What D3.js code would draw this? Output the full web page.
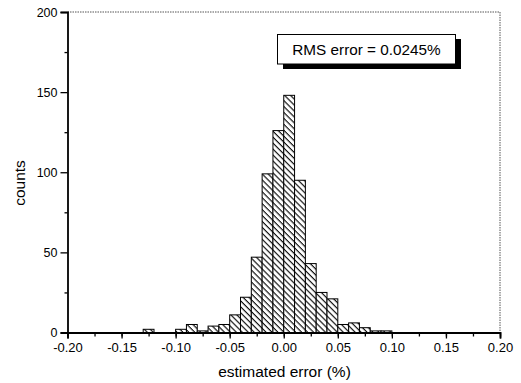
<!DOCTYPE html>
<html>
<head>
<meta charset="utf-8">
<script src="https://cdn.jsdelivr.net/npm/d3@7/dist/d3.min.js"></script>
<style>
  html, body { margin: 0; padding: 0; background: #fff; }
  svg { display: block; font-family: "Liberation Sans", Arial, sans-serif; }
</style>
</head>
<body>
<svg id="chart" width="521" height="383"></svg>
<script>
// ---- data ----
const binStarts = d3.range(-20, 20).map(i => i / 100); // bin lower edges, width 0.01
const counts = [
  0, 0, 0, 0, 0, 0, 0, 2, 0, 0,     // -0.20 .. -0.11
  2, 5, 1, 4, 5, 11, 22, 47, 99, 126, // -0.10 .. -0.01
  148, 95, 43, 25, 21, 5, 6, 3, 1, 1, // 0.00 .. 0.09
  0, 0, 0, 0, 0, 0, 0, 0, 0, 0        // 0.10 .. 0.19
];
const binWidth = 0.01;
const xTicks = [-0.20, -0.15, -0.10, -0.05, 0.00, 0.05, 0.10, 0.15, 0.20];
const xMinorTicks = d3.range(-8, 9).map(i => i * 0.025);
const yTicks = [0, 50, 100, 150, 200];
const yMinorTicks = [25, 75, 125, 175];
const legendText = "RMS error = 0.0245%";
const xTitle = "estimated error (%)";
const yTitle = "counts";

// ---- layout ----
const svg = d3.select("#chart");
const mLeft = 67.5, mRight = 500, mTop = 12, mBottom = 332.5;
const x = d3.scaleLinear().domain([-0.2, 0.2]).range([mLeft, mRight]);
const y = d3.scaleLinear().domain([0, 200]).range([mBottom, mTop]);

// hatch pattern
const defs = svg.append("defs");
const pat = defs.append("pattern")
  .attr("id", "hatch").attr("patternUnits", "userSpaceOnUse")
  .attr("width", 4.2).attr("height", 4.2)
  .attr("patternTransform", "rotate(45)");
pat.append("rect").attr("width", 4.2).attr("height", 4.2).attr("fill", "#fff");
pat.append("line").attr("x1", 0).attr("y1", 0.6).attr("x2", 4.2).attr("y2", 0.6)
  .attr("stroke", "#000").attr("stroke-width", 1.1);

// frame top/right (dotted, light)
svg.append("line").attr("x1", mLeft).attr("x2", mRight).attr("y1", mTop).attr("y2", mTop)
  .attr("stroke", "#555").attr("stroke-width", 1).attr("stroke-dasharray", "1.5,1");
svg.append("line").attr("x1", mRight).attr("x2", mRight).attr("y1", mTop).attr("y2", mBottom)
  .attr("stroke", "#555").attr("stroke-width", 1).attr("stroke-dasharray", "1.5,1");

// bars
const data = binStarts.map((b, i) => ({ x0: b, x1: b + binWidth, c: counts[i] }));
svg.append("g").selectAll("rect").data(data.filter(d => d.c > 0)).join("rect")
  .attr("x", d => x(d.x0))
  .attr("width", d => x(d.x1) - x(d.x0))
  .attr("y", d => y(d.c))
  .attr("height", d => y(0) - y(d.c))
  .attr("fill", "url(#hatch)")
  .attr("stroke", "#000").attr("stroke-width", 1);

const fmtX = d => d3.format(".2f")(d).replace("\u2212", "-");

// x axis
const xAxis = svg.append("g").attr("transform", `translate(0,${mBottom})`);
xAxis.call(d3.axisBottom(x).tickValues(xMinorTicks).tickSize(4).tickFormat(""))
  .call(g => g.select(".domain").remove());
xAxis.append("g").call(d3.axisBottom(x).tickValues(xTicks).tickSize(6).tickPadding(4)
    .tickFormat(fmtX))
  .call(g => g.select(".domain").attr("stroke-width", 1.8))
  .call(g => g.selectAll("text").attr("font-size", 13).attr("fill", "#000")
     .attr("font-family", "'Liberation Sans', Arial, sans-serif"));
xAxis.selectAll("line").attr("stroke-width", 1.3);

// y axis
const yAxis = svg.append("g").attr("transform", `translate(${mLeft},0)`);
yAxis.call(d3.axisLeft(y).tickValues(yMinorTicks).tickSize(3).tickFormat(""))
  .call(g => g.select(".domain").remove());
yAxis.append("g").call(d3.axisLeft(y).tickValues(yTicks).tickSize(7).tickPadding(3)
    .tickFormat(d3.format("d")))
  .call(g => g.select(".domain").attr("stroke-width", 1.8))
  .call(g => g.selectAll("text").attr("font-size", 12.5).attr("fill", "#000")
     .attr("font-family", "'Liberation Sans', Arial, sans-serif"));
yAxis.selectAll("line").attr("stroke-width", 1.3);

// axis titles
svg.append("text").attr("x", 284.5).attr("y", 377)
  .attr("text-anchor", "middle").attr("font-size", 15.5).text(xTitle);
svg.append("text").attr("transform", "translate(25,183) rotate(-90)")
  .attr("text-anchor", "middle").attr("font-size", 15.5).text(yTitle);

// legend box with shadow
const lg = svg.append("g");
lg.append("rect").attr("x", 283).attr("y", 39).attr("width", 178).attr("height", 30).attr("fill", "#000");
lg.append("rect").attr("x", 277.5).attr("y", 34.5).attr("width", 178).attr("height", 29.5)
  .attr("fill", "#fff").attr("stroke", "#000").attr("stroke-width", 1);
lg.append("text").attr("x", 366.5).attr("y", 55).attr("text-anchor", "middle")
  .attr("font-size", 15.3).text(legendText);
</script>
</body>
</html>
